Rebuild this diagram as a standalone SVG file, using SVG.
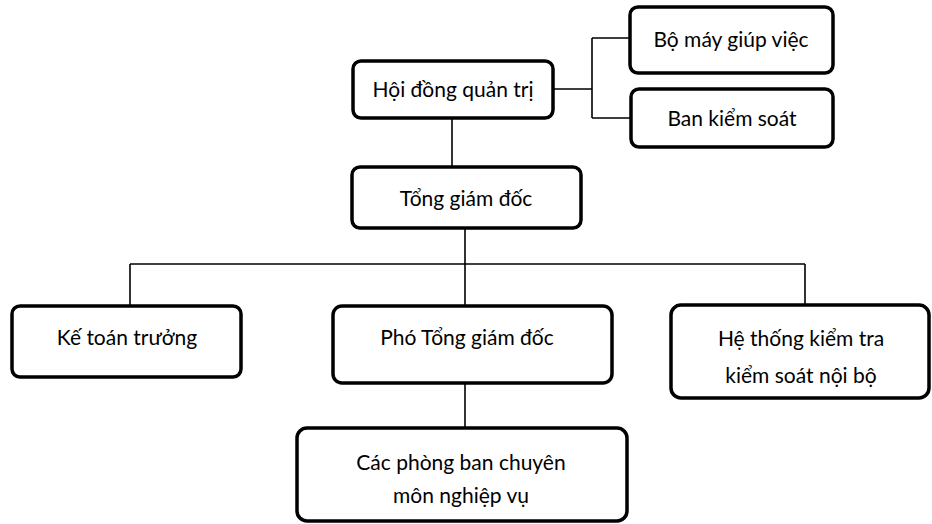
<svg xmlns="http://www.w3.org/2000/svg" width="932" height="524" viewBox="0 0 932 524">
<style>
.box{fill:#fff;stroke:#000;stroke-width:3.5}
.con{fill:none;stroke:#000;stroke-width:1.6}
text{font-family:Lato,"Open Sans","Noto Sans",sans-serif;font-size:21px;fill:#000;text-anchor:middle}
</style>
<rect width="932" height="524" fill="#fff"/>
<g id="connectors">
<path class="con" d="M553 89H592M592 38V118M592 38H630M592 118H630"/>
<path class="con" d="M452 118V167"/>
<path class="con" d="M465 228V264M130 264H805M130 264V306M465 264V306M805 264V305"/>
<path class="con" d="M465 383V428"/>
</g>
<g id="hdqt"><rect class="box" x="353" y="61" width="200" height="57" rx="8"/><text x="453" y="97">Hội đồng quản trị</text></g>
<g id="bmgv"><rect class="box" x="630" y="7" width="203" height="66" rx="8"/><text x="731" y="47">Bộ máy giúp việc</text></g>
<g id="bks"><rect class="box" x="631" y="89" width="202" height="58" rx="8"/><text x="732" y="126">Ban kiểm soát</text></g>
<g id="tgd"><rect class="box" x="352" y="167" width="229" height="61" rx="8"/><text x="466" y="206">Tổng giám đốc</text></g>
<g id="ktt"><rect class="box" x="12" y="306" width="229" height="71" rx="8"/><text x="127" y="345">Kế toán trưởng</text></g>
<g id="ptgd"><rect class="box" x="333" y="306" width="279" height="77" rx="9"/><text x="467" y="345">Phó Tổng giám đốc</text></g>
<g id="htkt"><rect class="box" x="671" y="305" width="258" height="93" rx="10"/><text x="801" y="346">Hệ thống kiểm tra</text><text x="801" y="383">kiểm soát nội bộ</text></g>
<g id="cpb"><rect class="box" x="297" y="428" width="330" height="93" rx="10"/><text x="461" y="470">Các phòng ban chuyên</text><text x="461" y="503">môn nghiệp vụ</text></g>
</svg>
